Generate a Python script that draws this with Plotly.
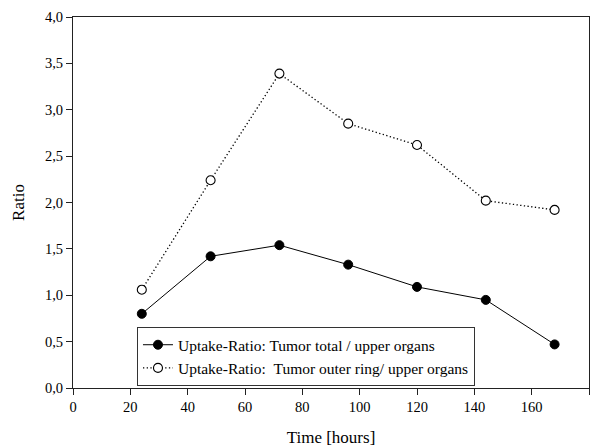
import plotly.graph_objects as go

time_hours = [24, 48, 72, 96, 120, 144, 168]
ratio_total = [0.80, 1.42, 1.54, 1.33, 1.09, 0.95, 0.47]
ratio_outer = [1.06, 2.24, 3.39, 2.85, 2.62, 2.02, 1.92]

name_total = "Uptake-Ratio: Tumor total / upper organs"
name_outer = "Uptake-Ratio: \u00a0Tumor outer ring/ upper organs"

FONT = "Liberation Serif"

fig = go.Figure()
fig.add_trace(go.Scatter(
    x=time_hours, y=ratio_total, name=name_total, mode="lines+markers",
    line=dict(color="black", width=1),
    marker=dict(symbol="circle", size=9, color="black", line=dict(color="black", width=1)),
))
fig.add_trace(go.Scatter(
    x=time_hours, y=ratio_outer, name=name_outer, mode="lines+markers",
    line=dict(color="black", width=1.3, dash="1.3px,2.4px"),
    marker=dict(symbol="circle", size=9, color="white", line=dict(color="black", width=1.1)),
))

# The page body has an 8px margin, so the figure is sized to fit the 599x447 window.
fig.update_layout(
    width=591, height=439,
    margin=dict(l=65, r=10, t=9, b=59, autoexpand=False),
    paper_bgcolor="white", plot_bgcolor="white",
    font=dict(family=FONT, size=14.5, color="black"),
    separators=",.",
    showlegend=True,
    legend=dict(
        x=0.124, y=0.164, xanchor="left", yanchor="top",
        bordercolor="#333", borderwidth=1, bgcolor="white",
        font=dict(family=FONT, size=15.5, color="black"),
        tracegroupgap=0,
    ),
)
fig.update_xaxes(
    range=[0, 180], tickvals=[0, 20, 40, 60, 80, 100, 120, 140, 160, 180],
    showgrid=False, zeroline=False,
    showline=True, mirror=True, linecolor="#222", linewidth=1,
    ticks="outside", ticklen=6, tickcolor="#222", tickwidth=1,
    tickfont=dict(family=FONT, size=14.5),
    title=dict(text="Time [hours]", font=dict(family=FONT, size=17), standoff=24),
    automargin=False,
)
fig.update_yaxes(
    range=[0, 4], tickvals=[0, 0.5, 1, 1.5, 2, 2.5, 3, 3.5, 4], tickformat=".1f",
    showgrid=False, zeroline=False,
    showline=True, mirror=True, linecolor="#222", linewidth=1,
    ticks="outside", ticklen=6, tickcolor="#222", tickwidth=1,
    tickfont=dict(family=FONT, size=14.5),
    title=dict(text="Ratio", font=dict(family=FONT, size=17), standoff=16),
    automargin=False,
)

fig.write_html("out.html")
